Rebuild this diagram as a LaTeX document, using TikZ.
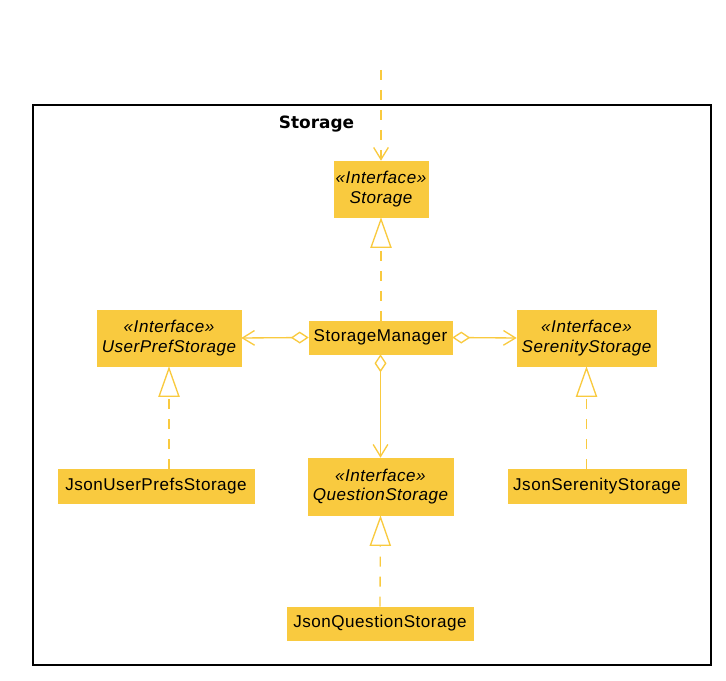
\documentclass[tikz,border=0pt]{standalone}
\usepackage{fontspec}
\setmainfont[LetterSpace=3]{Liberation Sans}
\newfontfamily\titlefont{DejaVu Sans}
\usetikzlibrary{arrows.meta}
\definecolor{gold}{HTML}{F9CA3F}
\begin{document}
\begin{tikzpicture}[x=0.75pt,y=-0.75pt,
  cls/.style 2 args={fill=gold, draw=gold, inner sep=0pt, align=center,
    minimum width={#1*0.75pt}, minimum height={#2*0.75pt},
    font=\fontsize{12.8}{14.5}\selectfont},
  ifc/.style 2 args={cls={#1}{#2}, font=\fontsize{12.8}{14.5}\selectfont\itshape},
  conn/.style={draw=gold, line width=1pt},
  dsh/.style={conn, dash pattern=on 7.5pt off 7.5pt},
  barb/.tip={Straight Barb[length=9pt,width=11pt,line width=1pt]},
  dep/.style={dsh, -barb},
  real/.style={dsh, -{Triangle[open,length=23pt,width=16pt,line width=1pt,fill=white]}},
  agg/.style={conn, {Diamond[open,length=13.5pt,width=9pt,line width=1pt,fill=white]}-barb}
]
\useasboundingbox (0,0) rectangle (726,681);
\draw[line width=1.5pt] (33,105) rectangle (711,665);
\node[font=\titlefont\bfseries\fontsize{12.7}{15}\selectfont] (title) at (316.5,124.5) {Storage};
\node[ifc={94}{56}] (storage) at (381,189) {«Interface»\\Storage};
\node[ifc={144}{56}] (upref) at (169,338) {«Interface»\\UserPrefStorage};
\node[cls={143}{33}] (mgr) at (380.5,337.5) {StorageManager};
\node[ifc={139}{56}] (ser) at (586.5,338) {«Interface»\\SerenityStorage};
\node[ifc={145}{57}] (qs) at (380.5,486.5) {«Interface»\\QuestionStorage};
\node[cls={186}{33}] (jq) at (380,623.5) {JsonQuestionStorage};
\node[cls={196}{34}] (ju) at (156,486) {JsonUserPrefsStorage};
\node[cls={178}{34}] (js) at (597,486) {JsonSerenityStorage};
\coordinate (ext) at (381,70);
\draw[dep] (ext) -- (storage.north);
\draw[real] (mgr.north -| storage.south) -- (storage.south);
\draw[agg] (mgr.west) -- (upref.east);
\draw[agg] (mgr.east) -- (ser.west);
\draw[agg] (mgr.south) -- (qs.north);
\draw[real] (ju.north -| upref.south) -- (upref.south);
\draw[real] (jq.north) -- (qs.south);
\draw[real] (js.north -| ser.south) -- (ser.south);
\end{tikzpicture}
\end{document}
